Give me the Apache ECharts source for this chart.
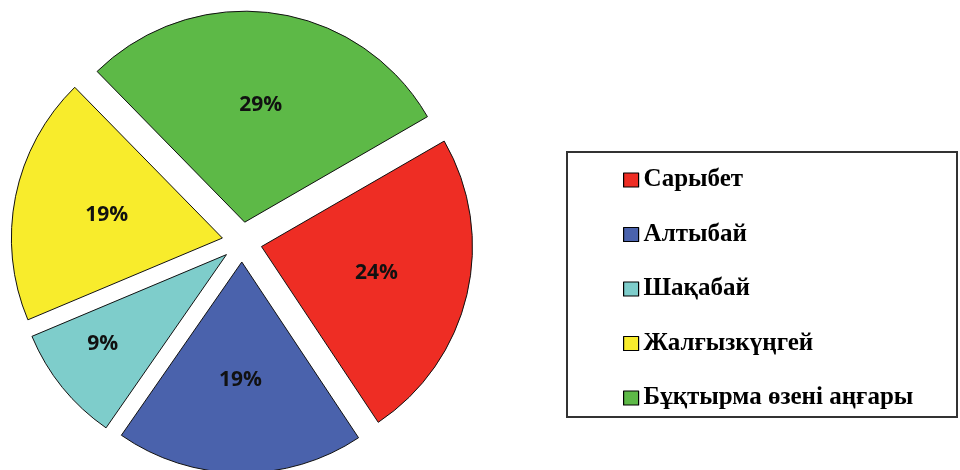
<!DOCTYPE html>
<html><head><meta charset="utf-8">
<script src="https://cdn.jsdelivr.net/npm/echarts@6/dist/echarts.min.js"></script>
<style>html,body{margin:0;padding:0;background:#fff}#c{width:960px;height:470px}</style>
</head><body><div id="c"></div>
<script>
const categories = ['Сарыбет', 'Алтыбай', 'Шақабай', 'Жалғызкүңгей', 'Бұқтырма өзені аңғары'];
const values = [24, 19, 9, 19, 29];
const colors = ['#EE2D24', '#4A62AC', '#7ECDCB', '#F8EC2C', '#5DB947'];

const chart = echarts.init(document.getElementById('c'));
const mkData = (transparent) => categories.map((n, i) => {
  const d = {
    name: n, value: values[i], selected: true,
    itemStyle: transparent ? {color: 'rgba(0,0,0,0)', borderWidth: 0} : {color: colors[i], borderColor: '#111', borderWidth: 1}
  };
  // small slice label sits further out, as in the original
  if (transparent && values[i] < 10) d.label = {padding: [0, 64, 0, 0], formatter: '\n{c}%', lineHeight: 30};
  return d;
});
chart.setOption({
  backgroundColor: '#fff',
  animation: false,
  graphic: [{type: 'rect', shape: {x: 567, y: 152, width: 390, height: 265}, style: {fill: '#fff', stroke: '#333', lineWidth: 2}, z: -1}],
  legend: {
    orient: 'vertical', left: 623, top: 167, itemGap: 28.5, padding: 0,
    itemWidth: 15, itemHeight: 14, icon: 'rect',
    itemStyle: {borderColor: '#000', borderWidth: 1.2},
    textStyle: {fontFamily: 'Liberation Serif', fontWeight: 'bold', fontSize: 25, color: '#000', lineHeight: 26},
    selectedMode: false,
    data: categories
  },
  series: [{
    type: 'pie', center: [242, 242], radius: 211, startAngle: 30, clockwise: true,
    selectedMode: 'multiple', selectedOffset: 20, silent: true,
    label: {show: false}, labelLine: {show: false},
    select: {itemStyle: {borderColor: '#111', borderWidth: 1}},
    data: mkData(false)
  }, {
    type: 'pie', center: [242, 242], radius: 230, startAngle: 30, clockwise: true,
    selectedMode: 'multiple', selectedOffset: 20, silent: true,
    legendHoverLink: false,
    label: {show: true, position: 'inner', formatter: '{c}%', fontFamily: 'Open Sans', fontWeight: 'bold', fontSize: 21, color: '#111'},
    labelLine: {show: false},
    select: {itemStyle: {color: 'rgba(0,0,0,0)', borderWidth: 0}},
    data: mkData(true)
  }]
});
</script></body></html>
